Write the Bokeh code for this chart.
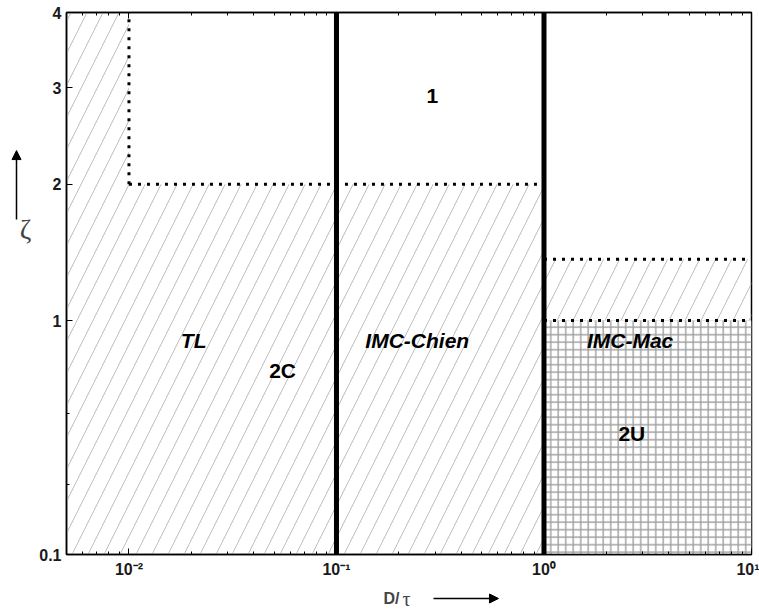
import numpy as np
from bokeh.plotting import figure
from bokeh.layouts import row, column
from bokeh.models import (ColumnDataSource, FixedTicker, LogAxis, Label,
                          Arrow, NormalHead, Range1d)
from bokeh.embed import file_html
from bokeh.resources import INLINE

# ---------------- data ----------------
# hatched regions (TL / 2C, IMC-Chien, band above IMC-Mac)
hatch_left = [0.005, 0.01, 1.0]
hatch_right = [0.01, 1.0, 10.0]
hatch_bottom = [0.1, 0.1, 1.0]
hatch_top = [4.0, 2.0, 1.4]

# cross-hatched region 2U
grid_left = [1.0]
grid_right = [10.0]
grid_bottom = [0.1]
grid_top = [1.0]

# thick solid boundaries
bound_x = [0.1, 1.0]
bound_y0 = [0.1, 0.1]
bound_y1 = [4.0, 4.0]

# dotted boundaries
dot_x0 = [0.01, 0.01, 1.0, 1.0]
dot_x1 = [0.01, 1.0, 10.0, 10.0]
dot_y0 = [2.0, 2.0, 1.4, 1.0]
dot_y1 = [4.0, 2.0, 1.4, 1.0]

# region labels
region_names = ["1", "TL", "2C", "IMC-Chien", "IMC-Mac", "2U"]
region_x = [0.29, 0.0205, 0.055, 0.245, 2.6, 2.65]
region_y = [2.9, 0.82, 0.61, 0.82, 0.82, 0.33]
region_style = ["bold", "bold italic", "bold", "bold italic", "bold italic", "bold"]

# axes
x_tick_values = [0.01, 0.1, 1.0, 10.0]
x_tick_labels = ["10⁻²", "10⁻¹", "10⁰", "10¹"]
x_minor_values = [m * 10.0 ** e for e in range(-3, 1) for m in range(2, 10)]
y_tick_values = [0.1, 1.0, 2.0, 3.0, 4.0]
y_tick_labels = ["0.1", "1", "2", "3", "4"]
y_minor_values = [0.2, 0.4]
x_caption = "D/"
x_caption_symbol = "τ"
y_caption_symbol = "ζ"

# ---------------- the ζ axis of the reference ----------------
# below 1 it is logarithmic, above 1 it follows log(1+ζ)
K_UPPER = 3.308


def zeta_axis(z):
    z = np.asarray(z, dtype=float)
    return np.where(z <= 1.0, np.log10(z),
                    K_UPPER * (np.log10(1.0 + z) - np.log10(2.0)))


FONT = "Liberation Sans"
SERIF = "Liberation Serif"

W, H = 759, 611
LEFT_W = 36
BOTTOM_H = 30
MAIN_W = W - LEFT_W
MAIN_H = H - BOTTOM_H

y_ticks = [round(float(v), 6) for v in zeta_axis(y_tick_values)]
y_minor = [round(float(v), 6) for v in zeta_axis(y_minor_values)]

p = figure(width=MAIN_W, height=MAIN_H, x_axis_type="log",
           x_range=Range1d(0.005, 10.0),
           y_range=Range1d(y_ticks[0], y_ticks[-1]),
           toolbar_location=None, output_backend="svg",
           min_border_left=29, min_border_right=8, min_border_top=12,
           min_border_bottom=27)
p.xgrid.visible = False
p.ygrid.visible = False
p.outline_line_color = "black"
p.outline_line_width = 1.5
p.background_fill_color = "white"
p.border_fill_color = "white"

# hatched regions
hs = ColumnDataSource(dict(left=hatch_left, right=hatch_right,
                           bottom=zeta_axis(hatch_bottom), top=zeta_axis(hatch_top)))
p.quad(left="left", right="right", bottom="bottom", top="top", source=hs,
       fill_alpha=0, line_color=None, hatch_pattern="/", hatch_color="#bdbdbd",
       hatch_weight=1.0, hatch_scale=32)

# grid region
gs = ColumnDataSource(dict(left=grid_left, right=grid_right,
                           bottom=zeta_axis(grid_bottom), top=zeta_axis(grid_top)))
p.quad(left="left", right="right", bottom="bottom", top="top", source=gs,
       fill_color="white", line_color=None, hatch_pattern="+", hatch_color="#a0a0a0",
       hatch_weight=1.4, hatch_scale=7.5)

# thick boundaries
bs = ColumnDataSource(dict(x=bound_x, y0=zeta_axis(bound_y0), y1=zeta_axis(bound_y1)))
p.segment(x0="x", y0="y0", x1="x", y1="y1", source=bs, line_color="black",
          line_width=5, line_cap="butt")

# dotted boundaries
ds = ColumnDataSource(dict(x0=dot_x0, x1=dot_x1, y0=zeta_axis(dot_y0), y1=zeta_axis(dot_y1)))
p.segment(x0="x0", y0="y0", x1="x1", y1="y1", source=ds, line_color="black",
          line_width=3, line_dash="3 6")

# region labels
ts = ColumnDataSource(dict(x=region_x, y=zeta_axis(region_y), t=region_names,
                           s=region_style))
p.text(x="x", y="y", text="t", source=ts, text_font_style="s",
       text_font={"value": FONT}, text_font_size="21px", text_align="center",
       text_baseline="middle", text_color="black")

# axes
xt = FixedTicker(ticks=x_tick_values, minor_ticks=x_minor_values)
yt = FixedTicker(ticks=y_ticks, minor_ticks=y_minor)


def style_axis(ax):
    ax.major_tick_in = 6
    ax.major_tick_out = 0
    ax.minor_tick_in = 3
    ax.minor_tick_out = 0
    ax.axis_line_color = "black"
    ax.axis_line_width = 1.5
    ax.major_tick_line_color = "black"
    ax.minor_tick_line_color = "black"
    ax.major_label_text_font = FONT
    ax.major_label_text_font_style = "bold"
    ax.major_label_text_font_size = "16px"
    ax.major_label_text_color = "#1a1a1a"


p.xaxis.ticker = xt
p.xaxis.major_label_overrides = {v: l for v, l in zip(x_tick_values, x_tick_labels)}
p.xaxis.major_label_standoff = 6
p.yaxis.ticker = yt
p.yaxis.major_label_overrides = {v: l for v, l in zip(y_ticks, y_tick_labels)}
p.yaxis.major_label_standoff = 5
style_axis(p.xaxis[0])
style_axis(p.yaxis[0])

top_ax = LogAxis(ticker=xt)
style_axis(top_ax)
top_ax.major_label_text_font_size = "1px"
top_ax.major_label_text_color = None
top_ax.major_label_standoff = 0
p.add_layout(top_ax, "above")


def strip(width, height):
    s = figure(width=width, height=height, x_range=Range1d(0, width),
               y_range=Range1d(0, height), toolbar_location=None,
               output_backend="svg", min_border=0,
               x_axis_location=None, y_axis_location=None)
    s.xgrid.visible = False
    s.ygrid.visible = False
    s.outline_line_color = None
    s.background_fill_color = "white"
    s.border_fill_color = "white"
    return s


# left strip: ζ with an upward arrow
left = strip(LEFT_W, MAIN_H)
left.add_layout(Arrow(x_start=16, y_start=MAIN_H - 222, x_end=16, y_end=MAIN_H - 148,
                      line_width=1.5,
                      end=NormalHead(size=9, fill_color="black", line_color="black")))
left.add_layout(Label(x=25, y=MAIN_H - 233, text=y_caption_symbol, text_font=SERIF,
                      text_font_size="28px", text_baseline="middle", text_align="center"))

# bottom strip: D/τ with a rightward arrow (strip top is at y = 581 of the page)
bottom = strip(W, BOTTOM_H)
bottom.add_layout(Label(x=383, y=13, text=x_caption, text_font=FONT,
                        text_font_style="bold", text_font_size="16px",
                        text_baseline="middle", text_align="left"))
bottom.add_layout(Label(x=402, y=13, text=x_caption_symbol, text_font=SERIF,
                        text_font_size="20px", text_baseline="middle", text_align="left"))
bottom.add_layout(Arrow(x_start=433, y_start=13, x_end=498, y_end=13,
                        line_width=1.5,
                        end=NormalHead(size=9, fill_color="black", line_color="black")))

layout = column(row(left, p, spacing=0), bottom, spacing=0)

open("out.html", "w").write(file_html(layout, INLINE))
